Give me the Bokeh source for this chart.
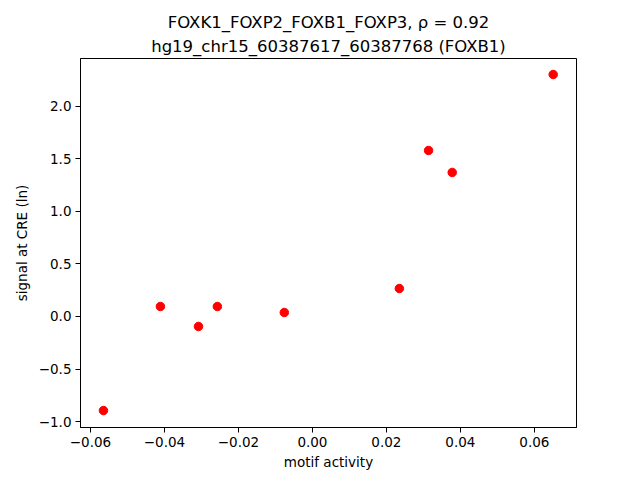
from bokeh.plotting import figure
from bokeh.models import Range1d, FixedTicker, Title
from bokeh.embed import file_html
from bokeh.resources import INLINE

# data
motif_activity = [0.0651, 0.0314, 0.0378, 0.0235, -0.0076, -0.0257, -0.0308, -0.0411, -0.0565]
signal = [2.30, 1.578, 1.369, 0.266, 0.038, 0.095, -0.095, 0.095, -0.894]

x_ticks = [-0.06, -0.04, -0.02, 0.0, 0.02, 0.04, 0.06]
x_tick_labels = ["\u22120.06", "\u22120.04", "\u22120.02", "0.00", "0.02", "0.04", "0.06"]
y_ticks = [-1.0, -0.5, 0.0, 0.5, 1.0, 1.5, 2.0]
y_tick_labels = ["\u22121.0", "\u22120.5", "0.0", "0.5", "1.0", "1.5", "2.0"]

title_line1 = "FOXK1_FOXP2_FOXB1_FOXP3, \u03c1 = 0.92"
title_line2 = "hg19_chr15_60387617_60387768 (FOXB1)"
x_label = "motif activity"
y_label = "signal at CRE (ln)"

FONT = "DejaVu Sans"

p = figure(width=640, height=480, output_backend="svg", toolbar_location=None,
           x_range=Range1d(-0.0627, 0.0714), y_range=Range1d(-1.055, 2.452),
           min_border_left=80, min_border_right=64, min_border_top=58, min_border_bottom=53)
p.title = None
p.add_layout(Title(text=title_line2, align="center", text_font=FONT, text_font_size="16.5px",
                   text_font_style="normal", text_color="black", standoff=6), "above")
p.add_layout(Title(text=title_line1, align="center", text_font=FONT, text_font_size="16.5px",
                   text_font_style="normal", text_color="black", standoff=0), "above")

p.scatter(motif_activity, signal, size=8.5, color="red", line_color="red")

p.xgrid.visible = False
p.ygrid.visible = False
p.outline_line_color = "black"
p.outline_line_width = 1
p.background_fill_color = "white"
p.border_fill_color = "white"

for ax, ticks, labels in ((p.xaxis, x_ticks, x_tick_labels), (p.yaxis, y_ticks, y_tick_labels)):
    ax.ticker = FixedTicker(ticks=ticks)
    ax.major_label_overrides = {t: l for t, l in zip(ticks, labels)}
    ax.minor_tick_line_color = None
    ax.major_tick_in = 0
    ax.major_tick_out = 5
    ax.major_tick_line_color = "black"
    ax.axis_line_color = "black"
    ax.major_label_text_font = FONT
    ax.major_label_text_font_size = "13.5px"
    ax.major_label_text_color = "black"
    ax.axis_label_text_font = FONT
    ax.axis_label_text_font_size = "13.5px"
    ax.axis_label_text_font_style = "normal"
    ax.axis_label_text_color = "black"

p.xaxis.axis_label = x_label
p.yaxis.axis_label = y_label
p.xaxis.major_label_standoff = 4
p.yaxis.major_label_standoff = 4
p.xaxis.axis_label_standoff = 4
p.yaxis.axis_label_standoff = 6

open("out.html", "w").write(file_html(p, INLINE))
